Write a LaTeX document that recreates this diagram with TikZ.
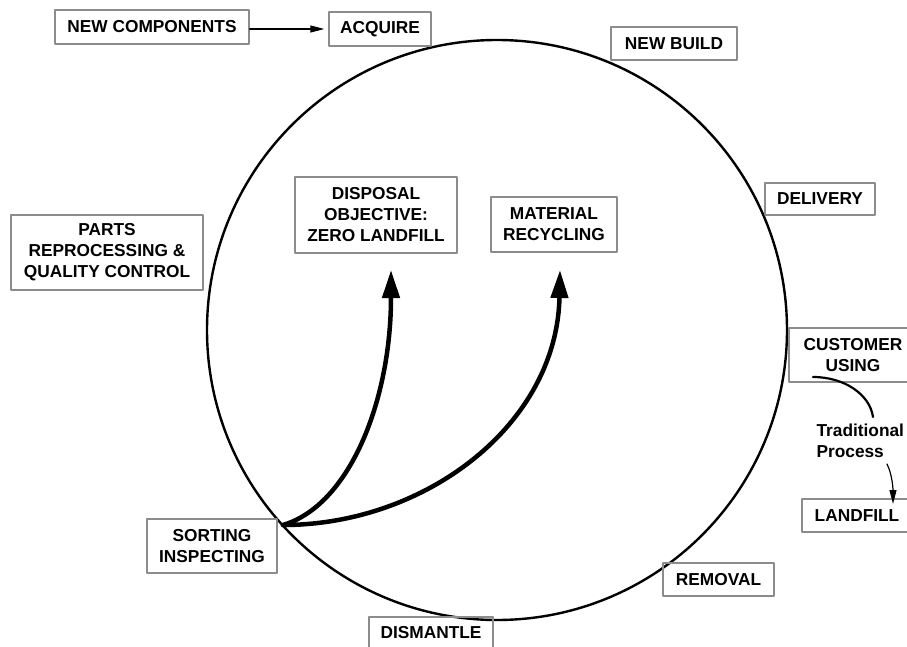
\documentclass[tikz,border=0pt]{standalone}
\usepackage{fontspec}
\setmainfont{Liberation Sans}
\usetikzlibrary{arrows.meta}
\begin{document}
\begin{tikzpicture}[
		x=1pt, y=-1pt, line join=round, line cap=round,
		every node/.style={font=\fontsize{17.3}{21}\selectfont\bfseries, align=center},
		stagebox/.style={draw=black!45, line width=1.4pt, inner sep=0pt},
		bigarrow/.style={line width=4.5pt, -{Triangle[length=28pt, width=17pt]}},
		thinarrow/.style={line width=1.2pt, -{Triangle[length=14pt, width=7pt]}}
	]
	\useasboundingbox (0,0) rectangle (907,647);

	% 1. VÒNG TRÒN CHU TRÌNH
	\draw[line width=2.4pt] (497,330) circle (290);

	% 2. CÁC Ô GIAI ĐOẠN
	\node[stagebox, minimum width=194, minimum height=34] (newcomp) at (152,27) {NEW COMPONENTS};
	\node[stagebox, minimum width=102, minimum height=34] (acquire) at (380,29) {ACQUIRE};
	\node[stagebox, minimum width=126, minimum height=33] (newbuild) at (674,43.5) {NEW BUILD};
	\node[stagebox, minimum width=110, minimum height=32] (delivery) at (820,199) {DELIVERY};
	\node[stagebox, minimum width=128, minimum height=54] (customer) at (853,355) {CUSTOMER\\USING};
	\node[stagebox, minimum width=110, minimum height=33] (landfill) at (857,515.5) {LANDFILL};
	\node[stagebox, minimum width=111, minimum height=33] (removal) at (718.5,579.5) {REMOVAL};
	\node[stagebox, minimum width=124, minimum height=32] (dismantle) at (431,633) {DISMANTLE};
	\node[stagebox, minimum width=130, minimum height=54] (sorting) at (212,546) {SORTING\\INSPECTING};
	\node[stagebox, minimum width=192, minimum height=75] (parts) at (107,252.5) {PARTS\\REPROCESSING \&\\QUALITY CONTROL};
	\node[stagebox, minimum width=162, minimum height=76] (disposal) at (376,215) {DISPOSAL\\OBJECTIVE:\\ZERO LANDFILL};
	\node[stagebox, minimum width=126, minimum height=55] (material) at (554,224.5) {MATERIAL\\RECYCLING};
	\node[anchor=west, align=left] (trad) at (813,441) {Traditional\\Process};

	% 3. ĐIỂM NEO
	\coordinate (hub) at (283,525);
	\coordinate (tipA) at (391,270);
	\coordinate (tipB) at (560,270);
	\coordinate (curveA) at (813,377);
	\coordinate (curveB) at (873,417);
	\coordinate (tradA) at (887,464);
	\coordinate (tradB) at (893,504);

	% 4. MŨI TÊN
	\draw[thinarrow, shorten >=4pt] ([yshift=-2pt]newcomp.east) -- ([yshift=-2pt]newcomp.east -| acquire.west);
	\draw[bigarrow] (hub) .. controls (350,505) and (391,400) .. (tipA);
	\draw[bigarrow] (hub) .. controls (425,525) and (557,425) .. (tipB);
	\draw[line width=2.2pt] (curveA) .. controls (845,377) and (870,395) .. (curveB);
	\draw[thinarrow] (tradA) .. controls (892,474) and (893,488) .. (tradB);
\end{tikzpicture}
\end{document}
